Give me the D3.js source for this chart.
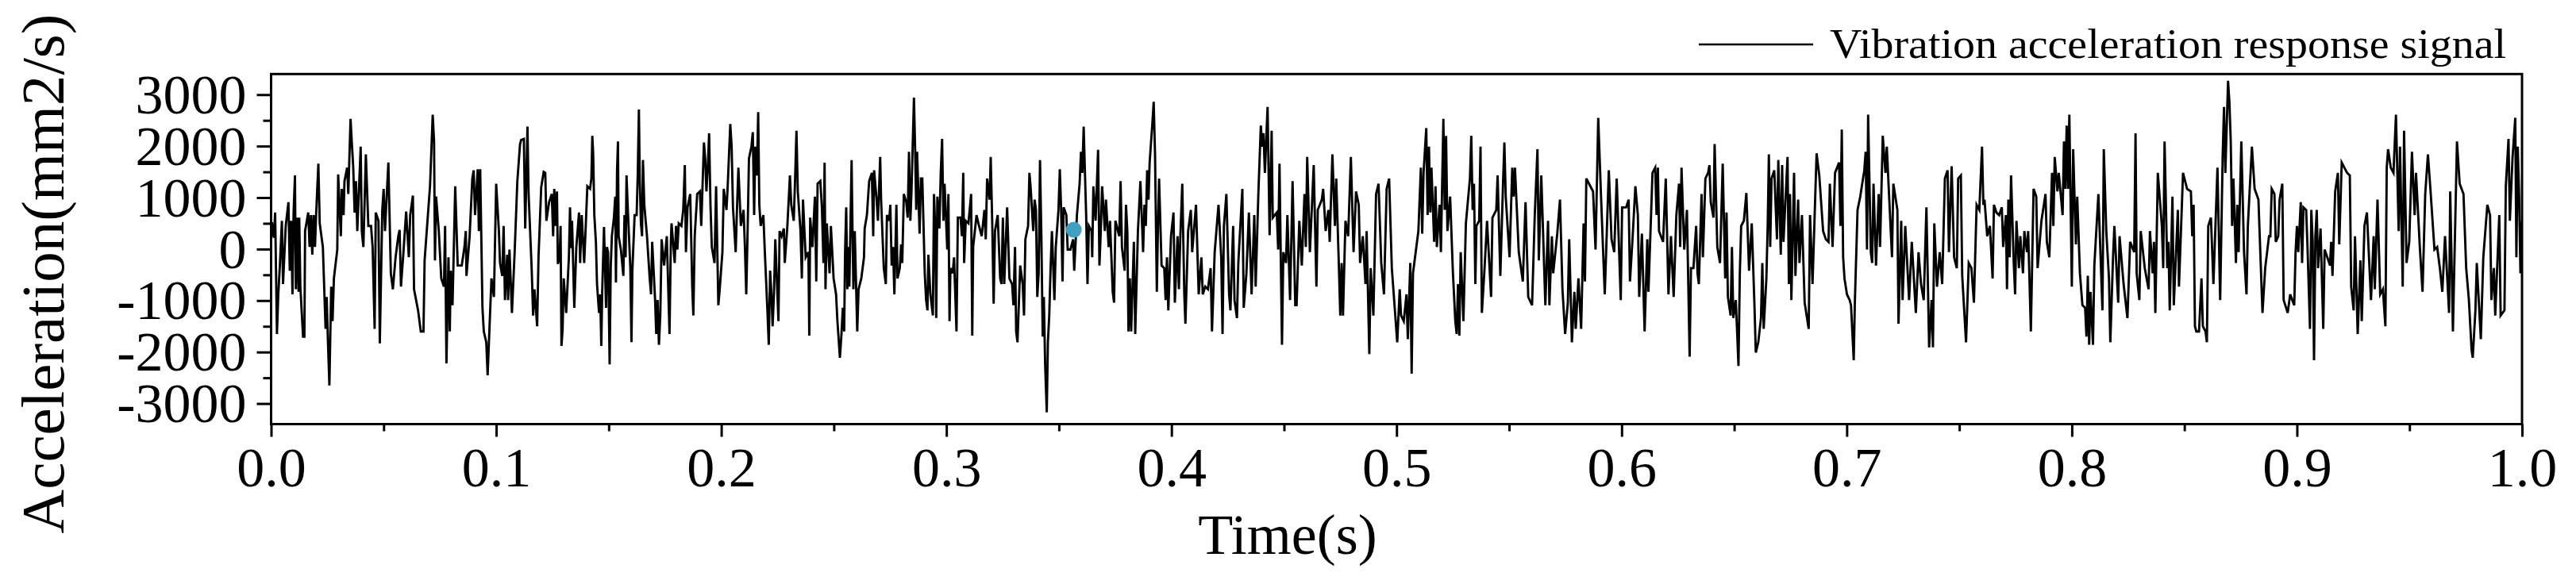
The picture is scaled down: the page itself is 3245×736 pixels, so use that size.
<!DOCTYPE html>
<html><head><meta charset="utf-8">
<script src="https://cdn.jsdelivr.net/npm/d3@7"></script>
<style>html,body{margin:0;padding:0;background:#fff;} svg{display:block;}</style>
</head><body>
<svg id="chart" width="3245" height="736"></svg>
<script>
// ---------- data ----------
const xTickValues = [0,0.1,0.2,0.3,0.4,0.5,0.6,0.7,0.8,0.9,1.0];
const xTickLabels = ["0.0","0.1","0.2","0.3","0.4","0.5","0.6","0.7","0.8","0.9","1.0"];
const xMinorTicks = [0.05,0.15,0.25,0.35,0.45,0.55,0.65,0.75,0.85,0.95];
const yTickValues = [3000,2000,1000,0,-1000,-2000,-3000];
const yTickLabels = ["3000","2000","1000","0","-1000","-2000","-3000"];
const yMinorTicks = [2500,1500,500,-500,-1500,-2500];
const seriesName = "Vibration acceleration response signal";
const xTitle = "Time(s)";
const yTitle = "Acceleration(mm2/s)";
const highlightPoint = [356.6, 375]; // [time ms, acceleration]

// signal samples: [time (ms), acceleration (mm2/s)]
const signalSeg1 = [[0.0,500],[0.4,500],[1.2,220],[1.8,710],[2.6,-1650],[3.2,-880],[3.9,-320],[4.8,550],[5.3,-680],[6.5,450],[7.7,910],[8.3,-420],[8.9,550],[9.5,-880],[10.0,710],[10.6,1430],[11.0,-780],[11.6,610],[12.2,-830],[12.5,610],[13.0,-730],[14.2,-1700],[14.8,-1700],[15.1,350],[16.5,710],[17.1,40],[17.7,660],[18.3,-110],[18.9,660],[19.5,40],[20.0,660],[21.0,1660],[21.6,500],[23.0,40],[24.2,-1550],[24.7,-930],[25.3,-1860],[25.9,-2650],[26.7,-730],[27.3,-1400],[27.9,-570],[29.4,-10],[29.8,1450],[31.0,250],[31.4,1170],[32.2,660],[32.6,1320],[33.8,1580],[34.3,1070],[35.3,2530],[35.9,2040],[36.5,1580],[37.1,710],[37.7,1320],[38.3,350],[39.8,1990],[40.3,350],[41.0,40],[42.1,1840],[43.2,450],[44.4,450],[45.1,40],[46.0,-1550],[46.5,710],[47.7,550],[48.3,-1830],[49.4,760],[50.0,1170],[50.6,350],[52.1,1680],[53.2,-470],[54.1,-780],[55.3,-160],[56.5,250],[57.1,370],[57.7,-730],[58.8,-60],[60.0,730],[61.2,-160],[61.8,660],[63.0,1040],[63.5,-780],[65.3,-1190],[66.5,-1600],[67.7,-1600],[68.2,-220],[69.4,500],[70.6,1220],[71.8,2610],[72.4,2090],[72.8,-220],[73.3,1020],[74.5,350],[75.6,-570],[76.8,-730],[77.3,450],[77.9,-2220],[78.8,-160],[79.4,-1600],[79.8,-420],[80.6,-1090],[81.8,1220],[82.9,-320],[84.7,-320],[85.9,40],[86.5,350],[86.8,-520],[88.2,250],[89.4,1370],[90.0,1530],[90.6,660],[91.8,1550],[92.3,350],[92.9,1550],[93.9,-1140],[94.5,-1600],[95.6,-1810],[96.2,-2450],[96.8,-1780],[97.9,-570],[99.0,-930],[100.0,1270],[101.2,350],[101.7,-270],[102.7,-520],[103.3,450],[103.9,-990],[104.9,-110],[105.3,-990],[105.9,-10],[107.0,-1240],[108.2,-60],[109.4,1320],[110.6,2040],[111.1,2120],[112.3,2140],[112.9,400],[113.9,2380],[114.4,1070],[115.8,-420],[116.4,-1290],[117.0,-780],[118.2,-1500],[118.8,-160],[120.0,1200],[121.1,1500],[121.8,1480],[122.3,550],[123.5,910],[124.7,1070],[125.3,250]];

const signalSeg2 = [[125.8,1170],[126.4,450],[127.0,1120],[127.4,-290],[128.2,-160],[128.6,450],[129.0,-1880],[129.5,-1570],[130.0,-570],[131.1,-1240],[132.3,-160],[132.8,810],[133.3,20],[133.7,550],[134.7,-1140],[135.6,40],[136.8,710],[137.3,-270],[138.0,660],[139.1,-270],[139.6,250],[140.5,1220],[141.7,1170],[142.3,1370],[142.7,2200],[143.1,1840],[143.6,660],[144.3,140],[144.8,-680],[145.7,-1240],[146.2,-880],[146.7,-1880],[147.1,-830],[147.9,430],[148.8,-1140],[149.2,40],[149.7,-60],[150.4,-2240],[150.9,-320],[151.4,250],[152.3,610],[152.9,1020],[153.2,-650],[153.7,1530],[154.1,2090],[154.4,250],[155.4,-10],[156.5,-520],[157.0,660],[157.5,-160],[157.9,1430],[158.4,860],[159.6,-370],[160.1,-1810],[160.5,-420],[161.5,660],[162.4,660],[162.9,1480],[163.4,2710],[163.8,1320],[164.3,500],[164.8,250],[165.2,1730],[165.8,860],[167.0,250],[168.2,-570],[168.8,-880],[169.3,140],[170.6,-990],[171.1,-1650],[171.7,-990],[172.3,-1860],[172.9,-1290],[173.5,190],[174.6,-320],[175.8,250],[177.0,-1650],[177.6,140],[177.9,500],[179.3,-270],[179.9,450],[180.5,-10],[181.1,500],[182.3,450],[183.1,760],[183.8,1630],[184.3,-60],[185.0,810],[186.2,1070],[187.1,-730],[187.6,-1290],[188.2,250],[189.3,1070],[190.5,1120],[191.1,450],[192.3,2070],[192.9,1730],[193.4,1120],[194.0,1580],[194.6,2250],[195.2,860],[195.8,40],[197.0,-270],[197.7,1220],[198.7,-1090],[199.3,-780],[200.5,-60],[201.1,1170],[202.3,760],[202.8,1170],[204.0,2430],[204.6,1990],[205.2,810],[206.4,-60],[207.0,810],[207.6,1580],[208.7,450],[209.9,760],[210.5,40],[211.1,-880],[211.7,350],[212.3,1760],[213.4,1990],[214.0,2270],[214.6,660],[215.1,1990],[215.8,1430],[216.4,2660],[216.9,860],[217.5,450],[218.7,660],[219.3,-10],[220.5,-1190],[221.1,-1860],[221.7,-420],[222.3,-880],[222.8,-1500],[223.4,-880],[224.0,190],[225.4,-1400],[225.9,350],[226.8,250],[227.8,400],[228.2,-270],[229.3,400],[230.5,1430],[231.1,860],[232.2,550],[232.8,1370],[233.4,2300],[234.0,1120],[235.2,350],[235.8,-570],[236.3,960],[237.5,-160],[238.7,-60],[239.1,-1680],[239.5,610],[240.5,40],[241.6,1020],[242.2,-630],[242.8,1270],[244.0,1320],[244.7,810],[245.4,-270],[245.9,1680],[246.3,-780],[246.9,500],[248.1,-470],[248.7,450],[249.9,-570],[251.0,-880],[251.6,-1400],[252.7,-2110]];

const signalSeg3 = [[253.4,-1650],[254.0,-1140],[254.6,-1600],[255.0,-60],[255.5,810],[256.0,-780],[256.5,40],[256.9,-730],[257.9,1730],[258.3,350],[258.7,-780],[259.3,350],[260.4,-1600],[261.0,-780],[262.2,-570],[263.4,-160],[263.7,400],[264.7,660],[265.7,1320],[266.9,1480],[267.5,250],[267.9,1530],[269.0,960],[269.6,550],[270.6,1790],[271.0,960],[272.2,-370],[273.1,-680],[273.6,660],[274.6,550],[275.1,860],[275.7,-320],[276.3,40],[276.9,-880],[277.8,860],[278.3,-570],[279.3,-370],[279.9,90],[280.4,-270],[281.1,1070],[282.2,910],[282.8,610],[283.4,1890],[284.0,550],[284.5,1120],[285.6,2940],[286.1,1990],[286.6,760],[287.0,1890],[288.1,300],[288.7,1370],[289.3,1370],[289.8,550],[290.4,-470],[291.0,-990],[291.6,-1190],[292.0,-110],[292.9,-880],[294.0,-1290],[294.5,1070],[295.0,450],[295.5,-1340],[296.0,1020],[296.9,400],[297.5,1480],[298.1,2140],[298.7,550],[299.2,1270],[300.4,-10],[300.9,1070],[301.4,-1400],[301.8,-370],[302.8,-470],[303.4,-160],[304.5,-1600],[305.1,610],[306.3,610],[306.9,250],[307.5,1480],[307.9,-270],[308.6,550],[309.8,500],[311.0,1070],[311.5,-1680],[311.9,40],[313.4,660],[314.5,450],[315.7,250],[316.9,760],[317.5,190],[318.1,1370],[319.2,960],[319.7,1790],[320.4,450],[321.0,-1060],[321.6,350],[322.8,660],[323.9,-570],[324.5,-680],[325.1,610],[325.7,-680],[327.0,810],[328.0,-570],[329.2,-680],[329.8,-1090],[330.5,40],[331.0,-1600],[331.6,-1810],[332.8,-320],[333.9,-680],[334.5,-1290],[335.1,190],[336.3,450],[336.9,1480],[337.4,1220],[338.6,350],[339.2,960],[339.8,760],[340.4,-930],[341.0,-470],[341.6,1730],[342.2,250],[342.8,-1700],[343.3,-930],[343.9,-2270],[344.6,-3170],[345.1,-1810],[345.7,-1290],[346.3,-370],[346.9,350],[348.0,-990],[348.6,40],[349.8,760],[350.4,1550],[351.0,760],[351.6,-630],[352.1,810],[353.3,660],[353.9,-10],[355.1,-10],[356.3,190],[356.8,-420],[358.0,660],[359.2,1270],[359.8,1890],[360.4,1480],[361.0,2380],[361.5,1580],[362.1,660],[362.7,-680],[363.3,450],[364.5,350],[364.8,-160],[365.3,1220],[366.3,550],[367.4,1930],[368.0,-320],[368.6,350],[369.2,1220],[370.4,350],[370.9,960],[372.1,40],[372.7,550],[373.9,-830],[374.5,-1040],[375.1,550],[376.8,250],[377.4,1320],[378.0,40],[379.2,-420],[379.8,860]];

const signalSeg4 = [[380.4,350],[380.9,-1600],[381.5,-570],[382.1,-1600],[383.3,140],[383.9,-1650],[385.1,350],[386.2,1320],[387.4,-60],[388.0,860],[388.6,450],[389.2,1530],[389.8,960],[390.3,1680],[391.5,2430],[392.1,2860],[392.7,1840],[393.5,-830],[394.0,450],[394.5,1370],[395.6,-320],[396.8,-370],[397.4,-990],[398.0,-160],[398.6,-1190],[399.8,250],[400.9,710],[401.5,-1040],[402.7,250],[403.3,-780],[403.9,190],[404.8,1270],[405.7,-880],[406.2,-1450],[407.4,350],[408.6,760],[409.2,-60],[410.9,860],[412.1,-880],[413.3,-160],[413.9,-880],[415.0,-730],[416.2,-780],[417.4,-370],[418.0,-1600],[419.2,-60],[420.9,860],[422.1,-160],[422.7,-1650],[423.3,450],[424.4,1070],[425.6,-880],[426.2,-1190],[427.4,450],[428.0,-990],[429.1,-1340],[429.7,-270],[431.5,1170],[432.1,-1140],[433.3,-470],[434.4,710],[435.6,-880],[436.8,660],[437.4,-730],[438.6,1070],[439.7,2400],[440.3,1990],[440.9,2250],[441.5,1480],[442.7,2760],[443.6,270],[444.5,2300],[445.0,610],[446.8,710],[447.4,-10],[448.0,1660],[448.5,40],[449.1,-1860],[449.7,-60],[450.9,-270],[451.5,660],[452.7,-990],[453.8,1320],[455.0,-1090],[455.6,-1090],[456.8,550],[457.9,-320],[459.1,1070],[459.7,40],[460.3,1790],[461.5,-60],[463.2,1630],[464.4,-730],[465.0,760],[466.8,960],[467.4,1170],[468.5,350],[469.7,760],[470.3,140],[471.5,1840],[472.6,450],[473.2,1370],[474.4,-370],[475.0,-1290],[475.6,-270],[476.2,-1290],[477.3,550],[478.5,250],[479.7,1790],[480.9,-60],[482.0,1120],[483.2,860],[483.8,-270],[485.0,250],[486.2,-680],[486.7,350],[487.9,-2040],[488.5,-370],[489.7,-1290],[490.9,1070],[492.0,1270],[493.2,-270],[494.4,-880],[495.6,1170],[496.7,1370],[497.9,-370],[499.1,-1090],[500.3,-1810],[501.4,-780],[502.0,-1290],[503.2,-1400],[504.4,-880],[505.0,-1750],[506.1,-270],[506.7,-2420]];

const signalSeg5 = [[507.3,-470],[508.5,-60],[509.7,350],[510.8,1580],[511.4,300],[512.0,1480],[513.2,2350],[513.8,660],[514.4,1990],[515.0,710],[515.5,1580],[516.7,140],[517.3,1220],[517.9,40],[519.1,860],[519.7,-60],[520.8,2530],[521.4,760],[522.0,2200],[522.6,350],[523.8,1020],[525.0,-420],[526.1,-1400],[526.7,-1650],[527.3,-680],[527.9,-1680],[528.5,-60],[529.7,-1400],[530.8,500],[532.6,1370],[533.2,2200],[533.8,760],[534.4,1270],[535.0,-680],[535.5,450],[536.7,550],[537.3,1990],[537.9,-1240],[539.1,-370],[540.2,550],[542.0,-930],[542.6,610],[544.3,760],[544.9,1430],[546.1,-520],[547.3,1270],[547.9,2070],[548.5,1020],[550.2,-160],[551.4,1580],[552.0,1020],[552.6,1580],[554.3,-60],[556.1,-630],[557.3,910],[558.5,-930],[560.2,-1090],[561.4,660],[562.6,1940],[563.2,-220],[564.3,1430],[566.1,-1090],[567.3,550],[567.9,-1090],[569.0,250],[569.6,-470],[571.4,300],[572.6,960],[573.7,-780],[574.9,-1650],[576.1,-1040],[576.7,190],[577.9,-1810],[579.0,-830],[579.6,-1550],[580.8,-570],[582.0,-1550],[583.1,500],[583.7,-630],[584.3,1370],[585.5,1270],[587.3,1120],[588.4,-10],[589.6,2550],[590.8,1070],[592.5,-880],[594.3,1530],[595.5,190],[596.7,-60],[597.8,1370],[599.6,-990],[600.2,810],[602.0,810],[603.1,960],[603.7,-630],[604.9,250],[606.1,1220],[607.2,660],[607.8,-930],[609.0,300],[610.2,-1600],[611.4,190],[611.9,-830],[613.7,1480],[614.9,1580],[615.5,660],[616.1,1580],[616.6,350],[618.4,140],[619.6,1370],[620.8,-880],[621.9,250],[623.1,-930],[624.3,660],[625.5,1270],[626.0,40],[626.6,1580],[627.8,-10],[629.0,760],[630.2,-2090],[630.8,-370],[631.9,-370],[633.1,450],[633.7,-470]];

const signalSeg6 = [[634.3,-680],[635.5,1070],[636.1,-160],[637.2,1370],[638.4,1480],[639.0,1630],[639.6,910],[640.8,610],[641.3,2040],[642.5,40],[643.7,-270],[644.9,1660],[646.0,-570],[646.6,710],[647.2,-930],[648.4,-1290],[649.0,40],[649.6,-1340],[650.7,-990],[651.3,-1600],[651.9,-2270],[652.5,-470],[653.1,450],[654.3,550],[655.4,1090],[656.6,-420],[657.8,500],[659.0,-1090],[659.6,-2010],[660.7,-1810],[661.9,-1340],[662.5,-270],[663.1,-1550],[664.3,-570],[664.9,500],[665.4,1840],[666.0,40],[666.6,1370],[667.8,1530],[669.0,190],[669.6,1730],[670.7,-110],[671.3,1630],[671.9,140],[673.7,1790],[674.3,-680],[674.8,1070],[675.4,-990],[676.6,1480],[677.2,-520],[678.4,960],[679.0,-270],[680.1,660],[681.3,-1040],[683.1,-1550],[683.7,660],[684.8,-680],[686.6,1860],[687.8,1430],[689.5,350],[690.7,190],[691.9,140],[692.5,1270],[693.7,40],[694.8,1480],[696.6,1680],[697.2,450],[697.8,2320],[698.4,-160],[699.0,-570],[700.1,-880],[701.3,-990],[701.9,-1090],[703.1,-2160],[703.6,-1040],[704.8,760],[706.0,1020],[707.8,1530],[708.4,1890],[709.0,-10],[709.5,2610],[710.7,-60],[711.3,-270],[711.9,1270],[713.0,-320],[714.2,1070],[714.8,40],[716.0,2200],[717.2,1480],[717.8,1990],[718.9,960],[720.1,-160],[720.7,1270],[722.5,760],[723.0,-1450],[724.2,550],[724.8,-990],[726.0,450],[727.7,-990],[728.9,140],[730.7,-1240],[731.9,-60],[733.0,-680],[734.2,-990],[735.4,810],[736.6,-1910],[737.7,-990],[738.3,-1910],[738.9,500],[740.1,-730],[741.3,-60],[742.4,-680],[743.6,1370],[744.8,1530],[745.4,-60],[746.6,1610],[747.7,-160],[748.9,-370],[749.5,1370],[750.7,1430],[751.3,-520],[753.0,-1810],[754.2,-270],[755.4,-370],[756.5,-1040],[757.7,860],[758.9,760],[760.1,1990],[760.7,860]];

const signalSeg7 = [[761.2,960],[762.4,250],[763.6,450],[764.8,-570],[765.4,860],[766.5,710],[767.7,660],[768.9,810],[769.5,40],[770.7,660],[771.2,-780],[771.8,960],[772.4,-160],[773.0,1430],[774.2,-270],[774.8,-880],[775.4,550],[776.5,-370],[777.1,250],[778.3,-470],[778.9,350],[780.1,-60],[780.6,350],[781.8,-1600],[783.0,1170],[784.2,1020],[784.8,-370],[786.5,550],[788.3,1070],[788.9,140],[790.0,-160],[791.2,1480],[791.8,450],[792.4,1790],[793.6,1120],[794.2,1480],[795.9,660],[796.5,2090],[797.1,1170],[797.7,2400],[798.3,1170],[798.9,2610],[799.5,760],[800.0,-730],[800.6,1940],[801.8,90],[802.4,1020],[803.6,-470],[804.7,-1090],[805.9,-1140],[806.5,-1700],[807.1,-520],[807.7,-1860],[808.3,-830],[809.4,-1860],[810.0,-320],[811.8,1070],[813.6,-1190],[814.2,1940],[815.3,350],[816.5,-570],[817.1,-1810],[818.3,-160],[818.9,450],[820.6,-1040],[821.2,250],[823.0,-680],[824.7,-1340],[825.9,140],[827.7,-60],[828.3,2250],[828.8,-470],[830.0,-990],[830.6,350],[832.4,-370],[834.1,-780],[834.7,350],[835.9,-470],[836.5,140],[837.1,-1240],[838.2,1480],[840.0,450],[840.6,-370],[841.2,2090],[842.4,-370],[842.9,140],[843.5,-1190],[844.7,1020],[845.3,-1090],[847.1,760],[847.6,-730],[849.4,1480],[851.2,1170],[852.9,1120],[853.5,250],[854.1,860],[854.7,-1500],[855.3,-1600],[856.5,-1600],[857.6,-570],[858.2,-1500],[859.4,-1600],[860.0,-1810],[860.6,450],[861.8,610],[862.9,-680],[864.7,1580],[865.9,-990],[867.0,1790],[867.6,2760],[868.2,1480],[869.4,3270],[870.0,2860],[870.6,2090],[871.2,450],[871.8,1370],[872.9,-270],[873.5,860],[874.1,-60],[875.3,2090],[876.5,-60],[877.6,-880],[878.2,450],[880.0,1990],[881.2,1170],[882.9,960],[884.7,-1240],[885.9,-370],[887.6,250]];

const signalSeg8 = [[888.2,250],[888.8,1170],[890.0,1070],[890.6,140],[891.7,250],[892.3,960],[893.5,1270],[894.1,-990],[895.9,-1240],[897.0,-880],[898.8,-1090],[899.4,-60],[900.0,450],[900.6,-60],[901.7,910],[902.3,-270],[902.9,810],[904.1,760],[904.7,40],[905.8,-1550],[906.4,760],[907.0,140],[907.6,-2160],[908.2,250],[908.8,760],[909.4,-370],[910.5,400],[911.7,-1550],[912.3,-10],[913.5,-160],[914.7,-320],[915.2,140],[915.8,-520],[917.0,1120],[918.2,1480],[918.8,90],[919.9,1680],[921.1,1580],[922.3,1480],[923.5,1430],[924.1,-730],[925.2,-1190],[925.8,250],[927.0,-1650],[928.2,-220],[928.8,-1400],[930.0,450],[931.1,710],[932.9,-990],[934.1,250],[934.6,-780],[935.8,960],[937.0,-880],[938.2,-780],[939.3,-1500],[939.9,1580],[940.5,1940],[941.7,1580],[942.9,1480],[944.0,2610],[945.2,350],[945.8,1990],[947.0,-730],[947.6,2300],[948.7,-270],[949.9,140],[951.1,1890],[952.3,660],[952.9,1480],[954.6,40],[955.8,-830],[957.0,1070],[958.2,1840],[959.3,1170],[961.1,-10],[962.3,40],[963.5,-370],[964.6,-830],[965.8,250],[967.6,-1240],[968.1,1120],[969.3,-1600],[970.5,860],[971.1,2090],[972.3,1270],[974.0,1070],[975.2,-370],[976.4,-990],[977.6,-1960],[978.1,-2110],[979.3,-1190],[979.9,-270],[981.7,-1750],[982.8,-160],[984.6,860],[985.8,660],[986.4,-990],[987.5,-370],[988.1,-1290],[989.9,660],[990.5,-1290],[992.2,-1190],[992.8,1220],[994.0,2140],[994.6,550],[995.8,1790],[997.0,2550],[997.5,-160],[998.1,1990],[998.7,1070],[999.3,-470],[1000.0,550]];

// ---------- layout ----------
const W = 3245, H = 736;
const plot = {left: 341.5, right: 3177, top: 93.3, bottom: 534.5};
const FONT = "'Liberation Serif','Times New Roman',serif";

const signal = [].concat(signalSeg1, signalSeg2, signalSeg3, signalSeg4,
                         signalSeg5, signalSeg6, signalSeg7, signalSeg8);

const svg = d3.select("#chart");
svg.append("rect").attr("width", W).attr("height", H).attr("fill", "#fff");

const x = d3.scaleLinear().domain([0, 1]).range([plot.left, plot.right]);
const y = d3.scaleLinear().domain([-3400, 3400]).range([plot.bottom, plot.top]);

svg.append("defs").append("clipPath").attr("id", "clip")
  .append("rect").attr("x", plot.left).attr("y", plot.top)
  .attr("width", plot.right - plot.left).attr("height", plot.bottom - plot.top);

// signal line
const line = d3.line().x(d => x(d[0] / 1000)).y(d => y(d[1]));
svg.append("path").datum(signal)
  .attr("clip-path", "url(#clip)")
  .attr("d", line)
  .attr("fill", "none").attr("stroke", "#000")
  .attr("stroke-width", 2.9).attr("stroke-linejoin", "miter");

// highlighted sample
svg.append("circle")
  .attr("cx", x(highlightPoint[0] / 1000)).attr("cy", y(highlightPoint[1]))
  .attr("r", 10).attr("fill", "#41a0c2");

// frame
svg.append("rect")
  .attr("x", plot.left).attr("y", plot.top)
  .attr("width", plot.right - plot.left).attr("height", plot.bottom - plot.top)
  .attr("fill", "none").attr("stroke", "#000").attr("stroke-width", 3);

// x axis
const xAxis = svg.append("g").attr("transform", `translate(0,${plot.bottom})`)
  .call(d3.axisBottom(x).tickValues(xTickValues).tickSize(16)
    .tickFormat((d, i) => xTickLabels[i]));
const xMinor = svg.append("g").attr("transform", `translate(0,${plot.bottom})`)
  .call(d3.axisBottom(x).tickValues(xMinorTicks).tickSize(9).tickFormat(""));

// y axis
const yAxis = svg.append("g").attr("transform", `translate(${plot.left},0)`)
  .call(d3.axisLeft(y).tickValues(yTickValues).tickSize(18).tickPadding(13)
    .tickFormat((d, i) => yTickLabels[i]));
const yMinor = svg.append("g").attr("transform", `translate(${plot.left},0)`)
  .call(d3.axisLeft(y).tickValues(yMinorTicks).tickSize(10).tickFormat(""));

[xAxis, xMinor, yAxis, yMinor].forEach(g => {
  g.select(".domain").remove();
  g.selectAll(".tick line").attr("stroke", "#000").attr("stroke-width", 3);
});
xAxis.selectAll(".tick text")
  .attr("y", 78.5).attr("dy", 0)
  .attr("font-family", FONT).attr("font-size", 70).attr("fill", "#000");
yAxis.selectAll(".tick text")
  .attr("dy", "0.33em")
  .attr("font-family", FONT).attr("font-size", 70).attr("fill", "#000");

// axis titles
svg.append("text").text(xTitle)
  .attr("x", 1622).attr("y", 698).attr("text-anchor", "middle")
  .attr("font-family", FONT).attr("font-size", 72).attr("fill", "#000");
svg.append("text").text(yTitle)
  .attr("transform", "translate(80,345) rotate(-90)")
  .attr("text-anchor", "middle")
  .attr("textLength", 655).attr("lengthAdjust", "spacingAndGlyphs")
  .attr("font-family", FONT).attr("font-size", 76).attr("fill", "#000");

// legend
const legend = svg.append("g");
legend.append("line").attr("x1", 2140).attr("x2", 2284).attr("y1", 56).attr("y2", 56)
  .attr("stroke", "#000").attr("stroke-width", 2.4);
legend.append("text").text(seriesName)
  .attr("x", 2305).attr("y", 73)
  .attr("textLength", 852).attr("lengthAdjust", "spacingAndGlyphs")
  .attr("font-family", FONT).attr("font-size", 53).attr("fill", "#000");
</script>
</body></html>
